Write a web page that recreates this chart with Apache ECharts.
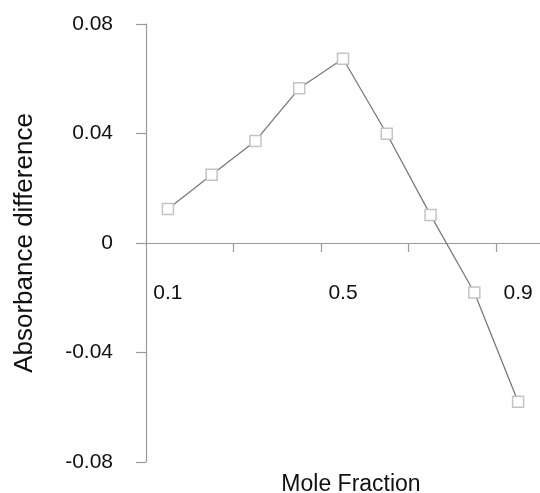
<!DOCTYPE html>
<html>
<head>
<meta charset="utf-8">
<script src="https://cdn.jsdelivr.net/npm/echarts@6/dist/echarts.min.js"></script>
<style>
    html, body { margin: 0; padding: 0; background: #fff; }
    #chart { width: 540px; height: 493px; }
</style>
</head>
<body>
<div id="chart"></div>
<script>
const moleFraction = [0.1, 0.2, 0.3, 0.4, 0.5, 0.6, 0.7, 0.8, 0.9];
const absorbanceDiff = [0.0124, 0.0249, 0.0373, 0.0565, 0.0673, 0.0399, 0.0102, -0.0181, -0.058];
const xTickValues = [0.25, 0.45, 0.65, 0.85];
const xLabelValues = [0.1, 0.5, 0.9];

const FONT = 'Liberation Sans, Arial, sans-serif';
const AXIS_GREY = '#9a9a9a';
const Y_MIN = -0.08;

const chart = echarts.init(document.getElementById('chart'), null, { renderer: 'canvas' });

chart.setOption({
    animation: false,
    backgroundColor: '#fff',
    grid: { left: 146, right: 0, top: 24, bottom: 31, containLabel: false, outerBoundsMode: 'none' },
    xAxis: {
        type: 'value',
        min: 0.05,
        max: 0.95,
        offset: 0,
        name: 'Mole Fraction',
        nameLocation: 'middle',
        nameGap: 230,
        nameTextStyle: { fontFamily: FONT, fontSize: 23, color: '#111', padding: [0, 0, 0, 16] },
        axisLine: { show: true, onZero: false, lineStyle: { color: AXIS_GREY, width: 1.2 } },
        axisTick: { show: true, length: 9, customValues: xTickValues, lineStyle: { color: AXIS_GREY, width: 1.2 } },
        axisLabel: {
            show: true,
            customValues: xLabelValues,
            margin: 40,
            fontFamily: FONT,
            fontSize: 21,
            color: '#111',
            formatter: v => String(v)
        },
        splitLine: { show: false }
    },
    yAxis: {
        type: 'value',
        min: Y_MIN,
        max: 0.08,
        interval: 0.04,
        name: 'Absorbance difference',
        nameLocation: 'middle',
        nameGap: 108,
        nameTextStyle: { fontFamily: FONT, fontSize: 26, color: '#111' },
        axisLine: { show: true, onZero: false, lineStyle: { color: AXIS_GREY, width: 1.2 } },
        axisTick: { show: true, length: 10, lineStyle: { color: AXIS_GREY, width: 1.2 } },
        axisLabel: {
            margin: 33,
            fontFamily: FONT,
            fontSize: 21,
            color: '#111',
            formatter: v => (v === 0 ? '0' : v.toFixed(2))
        },
        splitLine: { show: false }
    },
    series: [{
        type: 'line',
        data: moleFraction.map((x, i) => [x, absorbanceDiff[i]]),
        symbol: 'rect',
        symbolSize: 11,
        lineStyle: { color: '#7a7a7a', width: 1.3 },
        itemStyle: { color: '#fff', borderColor: '#c4c4c4', borderWidth: 1.5 }
    }]
});

// move the whole x axis (line, ticks, labels, name) up to y = 0
const yZero = chart.convertToPixel({ yAxisIndex: 0 }, 0);
const yBottom = chart.convertToPixel({ yAxisIndex: 0 }, Y_MIN);
chart.setOption({ xAxis: { offset: yZero - yBottom } });
</script>
</body>
</html>
